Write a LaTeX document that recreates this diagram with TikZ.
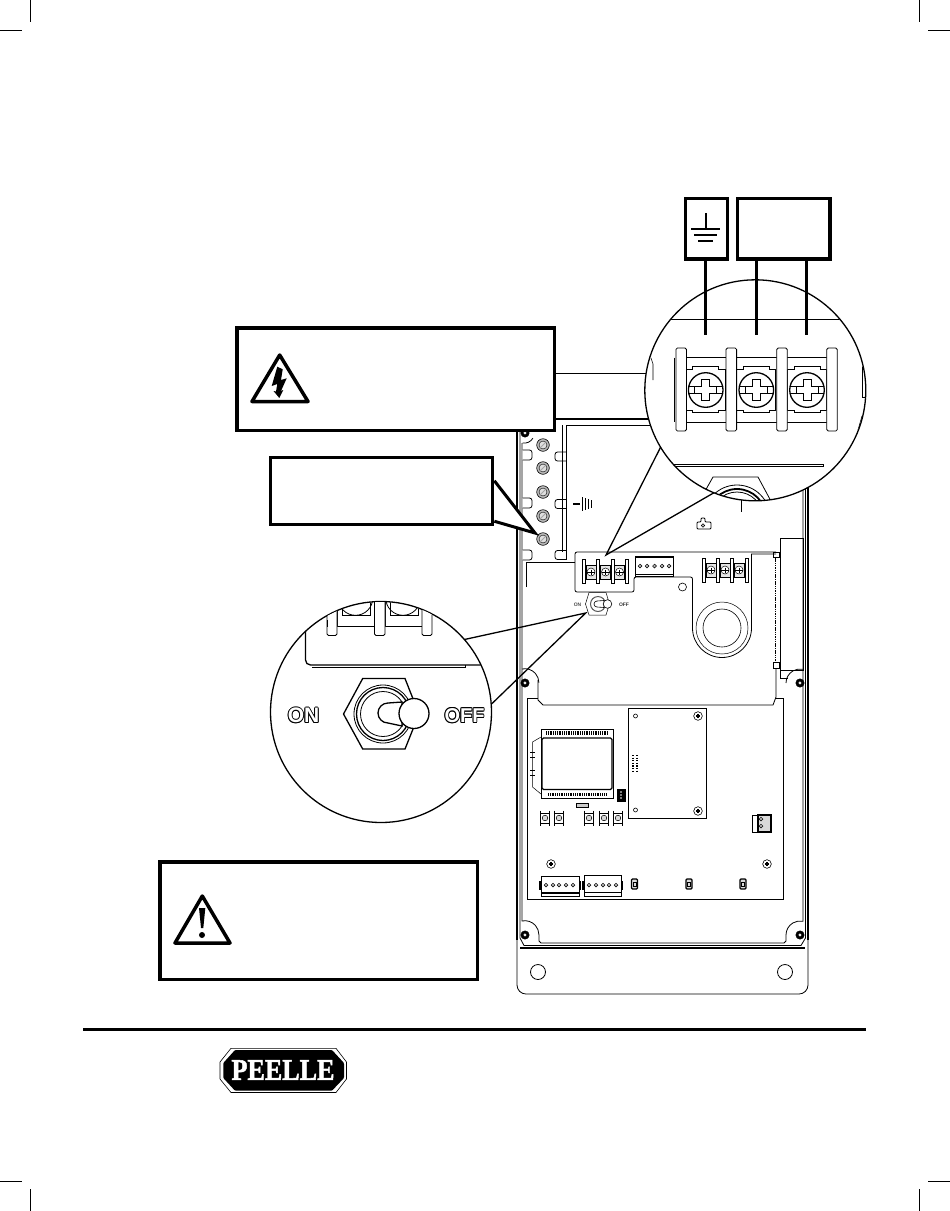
\documentclass[tikz,border=0pt]{standalone}
\usepackage{fontspec}
\setmainfont{Liberation Sans}
\newfontfamily\logofont[FakeBold=1.8]{Liberation Serif}
\usepackage{tikz}
\tikzset{
  fineline/.style={line width=.8pt,black},
  midline/.style={line width=1.3pt,black},
  heavyline/.style={line width=1.7pt,black},
  labelbox/.style={draw,line width=3.5pt,fill=white,inner sep=0pt},
  lens/.style={circle,draw,line width=1.3pt,fill=white,inner sep=0pt,outer sep=0pt,minimum size=221pt},
  wire/.style={line width=3.5pt},
  signline/.style={line width=3.5pt,line join=round},
  teeth/.style={line width=3.5pt,dash pattern=on .9pt off .9pt}
}
\newcommand{\ringtext}[1]{\rlap{\kern.9pt #1}\rlap{\kern-.9pt #1}\rlap{\raise.9pt\hbox{#1}}\rlap{\raise-.9pt\hbox{#1}}\rlap{\kern.7pt\raise.7pt\hbox{#1}}\rlap{\kern-.7pt\raise.7pt\hbox{#1}}\rlap{\kern.7pt\raise-.7pt\hbox{#1}}\rlap{\kern-.7pt\raise-.7pt\hbox{#1}}{\color{white}#1}}
\newcommand{\hatchscrew}[2]{\draw[line width=.6pt,fill=gray!55] (#1,#2) circle[radius=6.3];
  \draw[line width=.4pt,fill=gray!25] (#1,#2) circle[radius=4];
  \draw[line width=.9pt,gray!70] (#1-2.5,#2+2.5) -- (#1+2.5,#2-2.5);}
\newcommand{\panelscrew}[2]{\draw[line width=.6pt,fill=white] (#1,#2) circle[radius=4.3];
  \draw[line width=1.4pt] (#1-2,#2) -- (#1+2,#2) (#1,#2-2) -- (#1,#2+2);}
\newcommand{\cornerscrew}[2]{\draw[fill=black,line width=.5pt] (#1,#2) circle[radius=4.2];
  \draw[fill=white,line width=.3pt] (#1,#2) circle[radius=1.8];}
\newcommand{\leftflap}[1]{\draw[fineline,fill=white,rounded corners=2.5pt] (522.5,#1-5) -- (532,#1-5) -- (532,#1+5) -- (522.5,#1+5);}
\newcommand{\rightflap}[1]{\draw[fineline,fill=white,rounded corners=2.5pt] (566.5,#1-4.5) -- (555,#1-4.5) -- (555,#1+4.5) -- (566.5,#1+4.5);}
\newcommand{\smallbarrier}[2]{\draw[fineline,fill=white] (#1-1.5,#2-12) rectangle (#1+1.5,#2+12);}
\newcommand{\smallterm}[2]{\draw[fineline,fill=gray!20] (#1-5,#2-7) rectangle (#1+5,#2+7);
  \draw[line width=.5pt,fill=white] (#1,#2) circle[radius=4];
  \draw[line width=.9pt] (#1-4,#2) -- (#1+4,#2) (#1,#2-2.5) -- (#1,#2+2.5);}
\newcommand{\pinhole}[2]{\draw[line width=.5pt,fill=gray!60] (#1,#2) circle[radius=1.9];}
\newcommand{\pushbutton}[2]{\draw[line width=1.1pt] (#1-4.3,#2-7.5) -- (#1-4.3,#2+7.5) (#1+4.3,#2-7.5) -- (#1+4.3,#2+7.5);
  \draw[line width=.6pt] (#1-4.3,#2-5) rectangle (#1+4.3,#2+5);
  \draw[line width=.5pt,fill=gray!30] (#1,#2) circle[radius=2.8];}
\newcommand{\ledpart}[2]{\draw[midline,fill=gray!30,rounded corners=1pt] (#1-3,#2-5) rectangle (#1+3,#2+5);
  \draw[line width=.6pt] (#1-1.5,#2-2) rectangle (#1+1.5,#2+2);}
\newcommand{\lensbarrier}[1]{\draw[fineline,fill=white,rounded corners=1.5pt] (#1-5.3,348) rectangle (#1+5.3,431);}
\newcommand{\lensterm}[1]{\draw[fineline] (#1-21,357.5) rectangle (#1+21,422);
  \draw[fineline] (#1-19.5,369) -- (#1-13,369) -- (#1-13,366) -- (#1+13,366) -- (#1+13,369) -- (#1+19.5,369) -- (#1+19.5,410) -- (#1+13,410) -- (#1+13,412) -- (#1-13,412) -- (#1-13,410) -- (#1-19.5,410) -- cycle;
  \draw[midline,fill=white] (#1,390) circle[radius=17.3];
  \draw[fineline] (#1-17,386.5) -- (#1+17,386.5);
  \draw[fineline] (#1-17,393.5) -- (#1+17,393.5);
  \draw[fineline,fill=white] (#1-4,379.5) -- (#1+4,379.5) -- (#1+4,386) -- (#1+11,386) -- (#1+11,393) -- (#1+4,393) -- (#1+4,400) -- (#1-4,400) -- (#1-4,393) -- (#1-11,393) -- (#1-11,386) -- (#1-4,386) -- cycle;}
\begin{document}
\begin{tikzpicture}[x=1pt,y=-1pt]
\useasboundingbox (0,0) rectangle (950,1211);
\draw[fineline] (30,0) -- (30,22);
\draw[fineline] (0,30) -- (22,30);
\draw[fineline] (919,0) -- (919,22);
\draw[fineline] (928,30) -- (950,30);
\draw[fineline] (30,1189) -- (30,1211);
\draw[fineline] (0,1181) -- (22,1181);
\draw[fineline] (919,1189) -- (919,1211);
\draw[fineline] (928,1181) -- (950,1181);
\draw[line width=3pt] (83,1029) -- (866,1029);
\draw[fineline] (556,373) -- (648,373);
\draw[heavyline] (750,419) -- (517,419) -- (517,940);
\draw[heavyline] (808,940) -- (808,470);
\draw[fineline] (517,940) -- (517,985) arc[start angle=180,end angle=90,radius=9] -- (799,994) arc[start angle=90,end angle=0,radius=9] -- (808,940);
\draw[fineline] (750,425) -- (567,425);
\draw[fineline] (520,425) -- (520,938) -- (524,945.5) -- (801,945.5) -- (805.5,938) -- (805.5,470);
\draw[fineline] (522,443) -- (522,921) arc[start angle=-102,end angle=0,radius=14] -- (539,941) -- (541,943) -- (784,943) -- (786,941) -- (786,935) arc[start angle=180,end angle=282,radius=14] -- (803,470);
\draw[midline] (520,948) -- (805,948);
\draw[fineline] (522,669) arc[start angle=-102,end angle=0,radius=14];
\draw[fineline] (786,683) arc[start angle=180,end angle=282,radius=14];
\cornerscrew{525}{683}
\cornerscrew{800}{683}
\cornerscrew{525}{935}
\cornerscrew{800}{935}
\cornerscrew{525}{433}
\draw[fineline] (522.5,443) arc[start angle=100,end angle=30,radius=10];
\draw[fineline] (538,972) circle[radius=7.5];
\draw[fineline] (785,972) circle[radius=7.5];
\leftflap{455}
\leftflap{503}
\leftflap{555}
\rightflap{456.5}
\rightflap{504}
\rightflap{555}
\draw[fineline] (562,425) -- (562,552);
\draw[fineline] (566.5,425) -- (566.5,560);
\hatchscrew{543}{445}
\hatchscrew{543}{468}
\hatchscrew{543}{492}
\hatchscrew{543}{516}
\hatchscrew{543}{539}
\draw[line width=1.1pt] (573,504) -- (580,504);
\draw[line width=1.1pt] (582.5,497) -- (582.5,511);
\draw[line width=1.1pt] (585.5,498) -- (585.5,510);
\draw[line width=1.1pt] (588.5,499) -- (588.5,509);
\draw[line width=1.1pt] (591.5,500) -- (591.5,508);
\draw[fineline] (526,587) -- (526,562) -- (575,562);
\draw[fineline,rounded corners=2pt] (776,552) -- (575,552) -- (575,592) -- (634,592) -- (634,577) -- (692.5,577) -- (692.5,628);
\draw[fineline] (692.5,628) arc[start angle=180,end angle=0,radius=29.5] -- (751.5,554) -- (776,554);
\draw[line width=.5pt] (722,628) circle[radius=26];
\draw[line width=.6pt] (722,628) circle[radius=19];
\draw[line width=.6pt] (682.5,587) circle[radius=4];
\draw[fineline] (780,538) rectangle (803,670);
\draw[fineline] (780,670) -- (780,678) -- (788,678);
\draw[line width=1.5pt,dash pattern=on 1.5pt off .8pt] (775.5,558) -- (775.5,662);
\draw[line width=.6pt] (773,552) rectangle (779,557);
\draw[line width=.6pt] (773,662) rectangle (779,668);
\draw[fineline] (776,668) -- (776,697) -- (773,705) -- (543,705) -- (538,700) -- (538,680);
\draw[fineline] (527,698) -- (538,698);
\draw[fineline] (776,698) -- (783,698) -- (783,899) -- (527,899) -- (527,698);
\draw[fineline] (741,500) -- (741,512);
\draw[fineline,rounded corners=1pt] (697,522) -- (701,522) -- (701,518) -- (705,518) -- (705,522) -- (711,522) -- (711,529) -- (697,529) -- cycle;
\draw[line width=.5pt,fill=gray!50] (703,525.5) circle[radius=1.7];
\smallterm{591}{572}
\smallterm{605.5}{572}
\smallterm{619.5}{572}
\smallbarrier{584}{571}
\smallbarrier{598}{571}
\smallbarrier{613}{571}
\smallbarrier{627}{571}
\smallterm{711}{570}
\smallterm{725}{570}
\smallterm{739}{570}
\smallbarrier{704}{570}
\smallbarrier{718}{570}
\smallbarrier{732}{570}
\smallbarrier{747}{570}
\draw[fineline] (635,556) rectangle (673,576);
\draw[line width=1.8pt] (635,557) -- (673,557);
\draw[midline] (635,574.5) -- (673,574.5);
\pinhole{640}{566}
\pinhole{647}{566}
\pinhole{654.5}{566}
\pinhole{662}{566}
\pinhole{669}{566}
\draw[line width=.5pt,fill=white] (589,592.5) -- (606,592.5) -- (609.5,604) -- (606,615) -- (589,615) -- (585.5,604) -- cycle;
\draw[line width=1pt,gray!70!black] (598,604) circle[radius=7.5];
\draw[line width=.6pt,fill=white] (597,601) -- (604,600.5) -- (604,607.5) -- (597,607) arc[start angle=90,end angle=270,radius=3];
\draw[line width=.6pt,fill=white] (607.5,604) circle[radius=4.3];
\node[font=\bfseries\fontsize{5}{5}\selectfont,text=gray!60!black] (smallon) at (577.5,605) {ON};
\node[font=\bfseries\fontsize{5}{5}\selectfont,text=gray!40!black] (smalloff) at (624,605) {OFF};
\draw[fineline,fill=white] (541,729) rectangle (613,798);
\draw[midline,fill=white,rounded corners=1.5pt] (542,738) rectangle (612,789.5);
\draw[teeth] (546,733) -- (608,733);
\draw[teeth] (548,794.5) -- (606,794.5);
\draw[line width=.5pt] (541,737) -- (532.5,742) -- (532.5,787) -- (541,794);
\draw[line width=.5pt] (530,752) -- (535,752) (530,757) -- (535,757) (530,770) -- (535,770) (530,775) -- (535,775);
\draw[fill=black] (617,789) rectangle (625,801);
\fill[white] (621,792) circle[radius=.9];
\fill[white] (621,795) circle[radius=.9];
\fill[white] (621,798) circle[radius=.9];
\draw[fineline,fill=gray!40] (576,803) rectangle (588,807);
\pushbutton{545}{818}
\pushbutton{559}{818}
\pushbutton{589}{818}
\pushbutton{604}{818}
\pushbutton{618}{818}
\draw[fineline] (628.5,708) rectangle (706,818);
\draw[line width=.6pt] (635.5,716) circle[radius=2];
\draw[line width=.6pt] (635.5,810) circle[radius=2];
\panelscrew{698}{716}
\panelscrew{698}{811}
\draw[line width=1.2pt,dash pattern=on 1.2pt off 1.4pt] (633,755) -- (633,771);
\draw[line width=1.2pt,dash pattern=on 1.2pt off 1.4pt] (637,755) -- (637,771);
\draw[fineline,fill=white] (752,815) rectangle (767,832);
\draw[midline,fill=gray!30] (758,815) rectangle (771,832);
\pinhole{761}{819}
\pinhole{761}{826}
\panelscrew{551}{864}
\panelscrew{767}{864}
\draw[fineline] (541,876) rectangle (579,896);
\draw[midline] (541,893) -- (579,893);
\draw[midline] (540,881) -- (540,890);
\draw[midline] (580,881) -- (580,890);
\pinhole{546}{885}
\pinhole{553}{885}
\pinhole{559}{885}
\pinhole{566}{885}
\pinhole{573}{885}
\draw[fineline] (584,875) rectangle (621,896);
\draw[fineline] (584,892) -- (621,892);
\draw[midline] (583,881) -- (583,890);
\draw[midline] (622,881) -- (622,890);
\pinhole{589}{885}
\pinhole{596}{885}
\pinhole{603}{885}
\pinhole{609}{885}
\pinhole{616}{885}
\ledpart{634.5}{884}
\ledpart{689}{884}
\ledpart{743}{884}
\node[lens] (lensterminal) at (755.3,390.3) {};
\begin{scope}
\clip (755.3,390.3) circle[radius=110];
\draw[fineline] (640,319) -- (870,319);
\draw[fineline] (673,464) -- (823,464) -- (823,466) -- (673,466);
\draw[fineline] (700,500) -- (713,477) -- (758,477) -- (772,503);
\draw[fineline] (737,518) circle[radius=33];
\draw[line width=1.8pt] (737,518) circle[radius=29];
\draw[fineline] (737,518) circle[radius=26];
\draw[fineline] (674.3,357.5) -- (674.3,422);
\draw[line width=.6pt] (651,358) -- (653,364) -- (653,380);
\draw[line width=.6pt] (862.7,363) -- (862.7,397) -- (866,397);
\draw[line width=.6pt] (858,430) -- (862,416);
\lensterm{705.7}
\lensterm{756.3}
\lensterm{807}
\lensbarrier{681.2}
\lensbarrier{731.3}
\lensbarrier{782}
\lensbarrier{832}
\end{scope}
\node[labelbox,minimum width=42pt,minimum height=60.5pt] (groundbox) at (706.7,228.5) {};
\node[labelbox,minimum width=92.3pt,minimum height=60.5pt] (linebox) at (783.6,228.5) {};
\coordinate (groundend) at (705.7,335);
\coordinate (lineend) at (756.3,335);
\coordinate (neutralend) at (806.3,335);
\draw[wire] (groundbox.south -| groundend) -- (groundend);
\draw[wire] (linebox.south -| lineend) -- (lineend);
\draw[wire] (linebox.south -| neutralend) -- (neutralend);
\draw[line width=1.3pt] (706,213) -- (706,229);
\draw[line width=1.3pt] (691,229) -- (720,229);
\draw[line width=1.3pt] (694,235) -- (717,235);
\draw[line width=1.3pt] (698,241) -- (713,241);
\coordinate (terminaltip) at (606,555);
\draw[midline] (lensterminal.211) -- (terminaltip) -- (lensterminal.248);
\node[lens] (lensswitch) at (381,712) {};
\begin{scope}
\clip (381,712) circle[radius=110];
\draw[midline] (305.5,625) -- (305.5,660) arc[start angle=180,end angle=90,radius=5] -- (465,665) -- (495,665);
\draw[fineline] (312,667.7) -- (465,667.7) -- (465,665);
\draw[fineline] (337,590) -- (337,626) -- (374,626) -- (374,590);
\draw[fineline] (385,590) -- (385,626) -- (422,626) -- (422,590);
\draw[fineline] (342,590) -- (342,615) -- (370,615) -- (370,590);
\draw[fineline] (390,590) -- (390,615) -- (418,615) -- (418,590);
\draw[fineline] (355.5,598) circle[radius=17.3];
\draw[fineline] (403,598) circle[radius=17.3];
\draw[fineline,fill=white,rounded corners=1.5pt] (327,600) rectangle (337,635.5);
\draw[fineline,fill=white,rounded corners=1.5pt] (374.5,600) rectangle (385,635.5);
\draw[fineline,fill=white,rounded corners=1.5pt] (422,600) rectangle (432,635.5);
\draw[line width=1.8pt] (327.5,620) -- (327.5,627);
\end{scope}
\draw[midline,fill=white] (343.5,714) -- (362.7,678.5) -- (405,678.5) -- (419,714) -- (405,749) -- (362.7,749) -- cycle;
\draw[fineline] (383,714) circle[radius=29];
\draw[midline] (383,714) circle[radius=26.5];
\draw[fineline] (383,714) circle[radius=22.5];
\draw[midline,fill=white] (402,702) -- (388,703) arc[start angle=-90,end angle=-270,radius=10] -- (402,726) -- cycle;
\draw[midline,fill=white] (414,713.5) circle[radius=15];
\node[font=\bfseries\fontsize{21}{21}\selectfont] (bigon) at (303.5,715.5) {\ringtext{ON}};
\node[font=\bfseries\fontsize{20}{20}\selectfont] (bigoff) at (464.5,715.5) {\ringtext{OFF}};
\coordinate (switchtip) at (585.7,613);
\draw[midline] (lensswitch.41) -- (switchtip) -- (lensswitch.4);
\coordinate (notetip) at (535,533);
\node[labelbox,minimum width=222pt,minimum height=67pt] (notebox) at (381.6,491) {};
\draw[line width=3pt,line join=miter,fill=white] ([yshift=-25pt]notebox.north east) -- (notetip) -- ([yshift=5pt]notebox.south east);
\node[labelbox,minimum width=317.5pt,minimum height=102.5pt] (warnbox) at (395.5,379) {};
\draw[signline] (279.7,355) -- (252,401.5) -- (308,401.5) -- cycle;
\fill (277.3,366.7) -- (271.7,386) -- (277.3,384) -- (276,391.5) -- (273.5,391) -- (279.3,398) -- (283.3,390) -- (281,391) -- (286.7,378.3) -- (281,380) -- (282.7,369.3) -- cycle;
\node[labelbox,minimum width=317.5pt,minimum height=117.5pt] (cautionbox) at (318.8,920.5) {};
\draw[signline] (202.3,896) -- (175,943) -- (230,943) -- cycle;
\fill (199,908) -- (205.3,908) -- (203.3,928) -- (201,928) -- cycle;
\fill (202,935) circle[radius=3];
\fill[rounded corners=1pt] (235,1050) -- (332,1050) -- (344,1063) -- (344,1078) -- (332,1090.7) -- (235,1090.7) -- (223.3,1078) -- (223.3,1063) -- cycle;
\draw[line width=.6pt] (231,1048.3) -- (336,1048.3) -- (346.5,1062) -- (346.5,1079) -- (336,1092.5) -- (231,1092.5) -- (220,1079) -- (220,1062) -- cycle;
\node[text=white,font=\logofont\bfseries\fontsize{30}{30}\selectfont,xscale=.87,transform shape] (peelle) at (283,1070) {PEELLE};
\end{tikzpicture}
\end{document}
